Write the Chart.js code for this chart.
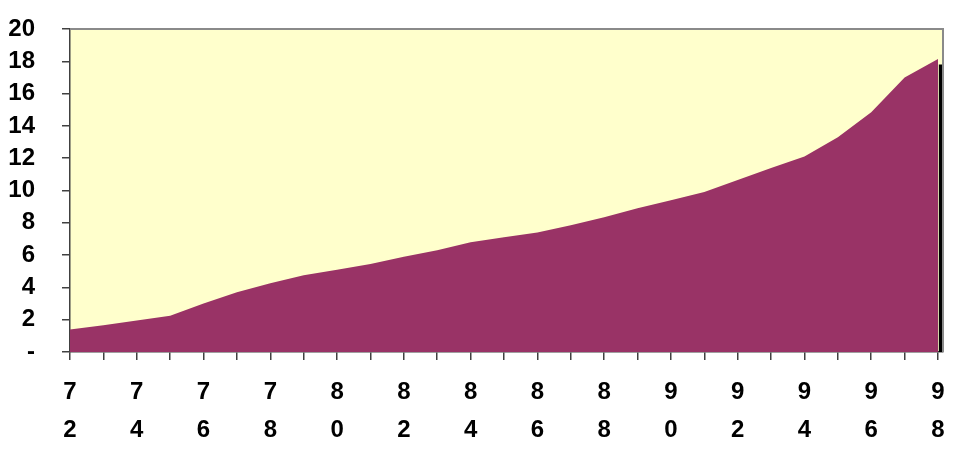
<!DOCTYPE html>
<html lang="en">
<head>
  <meta charset="UTF-8" />
  <title>Area chart</title>
  <script src="https://cdn.jsdelivr.net/npm/chart.js"></script>
  <style>
    body { margin: 0; background: #ffffff; }
    #wrap { width: 965px; height: 470px; }
  </style>
</head>
<body>
  <div id="wrap"><canvas id="areaChart"></canvas></div>
  <script>
    // data
    const years = [72, 73, 74, 75, 76, 77, 78, 79, 80, 81, 82, 83, 84, 85,
                   86, 87, 88, 89, 90, 91, 92, 93, 94, 95, 96, 97, 98];
    const values = [1.4, 1.65, 1.95, 2.25, 3.0, 3.7, 4.25, 4.75, 5.1, 5.45, 5.9, 6.3, 6.8, 7.1,
                    7.4, 7.85, 8.35, 8.9, 9.4, 9.9, 10.65, 11.4, 12.1, 13.3, 14.85, 17.0, 18.15];
    const yTicks = [0, 2, 4, 6, 8, 10, 12, 14, 16, 18, 20];
    const endYear = 98.1;
    const endValue = 17.8;

    // plot area background + frame
    const plotFrame = {
      id: 'plotFrame',
      beforeDraw(chart) {
        const { ctx, chartArea: a } = chart;
        ctx.save();
        ctx.fillStyle = '#ffffcc';
        ctx.fillRect(a.left, a.top, a.right - a.left, a.bottom - a.top);
        ctx.restore();
      },
      afterDraw(chart) {
        const { ctx, chartArea: a } = chart;
        ctx.save();
        ctx.strokeStyle = '#8a8a8a';
        ctx.lineWidth = 2;
        ctx.beginPath();
        ctx.moveTo(a.left, a.top);
        ctx.lineTo(a.right, a.top);
        ctx.lineTo(a.right, a.bottom);
        ctx.stroke();
        ctx.restore();
      }
    };

    new Chart(document.getElementById('areaChart'), {
      type: 'line',
      data: {
        datasets: [{
          data: years.map((y, i) => ({ x: y, y: values[i] })),
          backgroundColor: '#993366',
          borderWidth: 0,
          pointRadius: 0,
          fill: 'origin',
          tension: 0
        }, {
          data: [{ x: endYear, y: 0 }, { x: endYear, y: endValue }],
          borderColor: '#000000',
          borderWidth: 5,
          pointRadius: 0,
          fill: false
        }]
      },
      options: {
        responsive: true,
        maintainAspectRatio: false,
        animation: false,
        layout: { padding: { top: 29, right: 22, left: 0, bottom: 0 } },
        plugins: { legend: { display: false }, tooltip: { enabled: false } },
        scales: {
          x: {
            type: 'linear',
            min: 72,
            max: 98.15,
            afterFit(scale) { scale.height = 118; scale.paddingLeft = 0; scale.paddingRight = 0; },
            border: { display: true, color: '#404040', width: 1.5 },
            grid: { drawOnChartArea: false, drawTicks: true, tickLength: 8, color: '#404040', lineWidth: 1.5 },
            ticks: {
              stepSize: 1,
              includeBounds: false,
              autoSkip: false,
              maxTicksLimit: 100,
              maxRotation: 0,
              padding: 13,
              color: '#000000',
              font: { family: '"Liberation Sans", Arial, sans-serif', size: 24, weight: 'bold', lineHeight: 1.6 },
              callback: (v) => (v % 2 === 0 ? String(v).split('') : '')
            }
          },
          y: {
            min: 0,
            max: 20,
            afterFit(scale) { scale.width = 70; scale.paddingTop = 0; scale.paddingBottom = 0; },
            border: { display: true, color: '#404040', width: 1.5 },
            grid: { drawOnChartArea: false, drawTicks: true, tickLength: 8, color: '#404040', lineWidth: 1.5 },
            afterBuildTicks(scale) { scale.ticks = yTicks.map(v => ({ value: v })); },
            ticks: {
              autoSkip: false,
              padding: 27,
              color: '#000000',
              font: { family: '"Liberation Sans", Arial, sans-serif', size: 24, weight: 'bold' },
              callback: (v) => (v === 0 ? '-' : v)
            }
          }
        }
      },
      plugins: [plotFrame]
    });
  </script>
</body>
</html>
